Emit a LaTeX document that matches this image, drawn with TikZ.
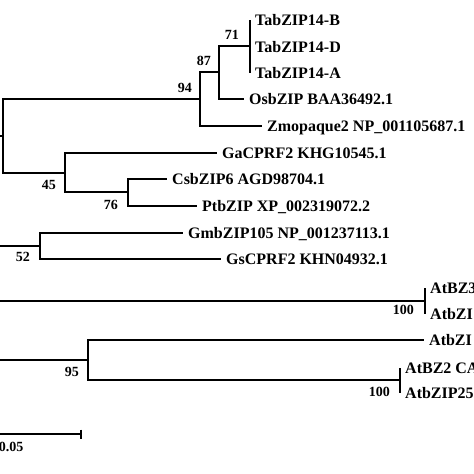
\documentclass[tikz,border=0pt]{standalone}
\usepackage{fontspec}
\setmainfont{Liberation Serif}
\usepackage{tikz}
\usetikzlibrary{arrows.meta}

\begin{document}
\begin{tikzpicture}[x=1pt, y=-1pt,
    branch/.style={line width=1.6pt},
    leaf/.style={anchor=west, inner sep=5pt, text height=11pt, text depth=0pt,
      font=\fontsize{16}{18}\selectfont\bfseries},
    boot/.style={anchor=east, inner sep=0pt, font=\fontsize{14}{16}\selectfont\bfseries}]
  \useasboundingbox (0,0) rectangle (474,474);
  \clip (0,0) rectangle (474,474);

  % leaves
  \node[leaf] (tabB) at (250,20) {TabZIP14-B};
  \node[leaf] (tabD) at (250,47) {TabZIP14-D};
  \node[leaf] (tabA) at (250,73) {TabZIP14-A};
  \node[leaf] (osb) at (244,99) {OsbZIP BAA36492.1};
  \node[leaf] (zmo) at (262,126) {Zmopaque2 NP\_001105687.1};
  \node[leaf] (gacprf) at (217,153) {GaCPRF2 KHG10545.1};
  \node[leaf] (csb) at (167,179) {CsbZIP6 AGD98704.1};
  \node[leaf] (ptb) at (197,206) {PtbZIP XP\_002319072.2};
  \node[leaf] (gmb) at (183,233) {GmbZIP105 NP\_001237113.1};
  \node[leaf] (gscprf) at (221,259) {GsCPRF2 KHN04932.1};
  \node[leaf] (atbz3) at (425,288) {AtBZ3};
  \node[leaf] (atbziA) at (425,314) {AtbZI};
  \node[leaf] (atbziB) at (424,340) {AtbZI};
  \node[leaf] (atbz2) at (400,368) {AtBZ2 CA};
  \node[leaf] (atbzip) at (400,393) {AtbZIP25};

  % inner nodes
  \coordinate (rA) at (3,136);
  \coordinate (n94) at (200,99);
  \coordinate (n87) at (219,72);
  \coordinate (n71) at (250,46);
  \coordinate (n45) at (65,173);
  \coordinate (n76) at (128,192);
  \coordinate (n52) at (40,246);
  \coordinate (nAt3) at (425,301);
  \coordinate (n95) at (88,360);
  \coordinate (nAt2) at (400,380);
  \coordinate (sA) at (-20,136);
  \coordinate (s52) at (-20,246);
  \coordinate (sAt3) at (-20,301);
  \coordinate (s95) at (-20,360);

  % branches
  \draw[branch] (sA)--(rA);
  \draw[branch] (rA) |- (n94);
  \draw[branch] (rA) |- (n45);
  \draw[branch] (n94) |- (n87);
  \draw[branch] (n94) |- (zmo.west);
  \draw[branch] (n87) |- (n71);
  \draw[branch] (n87) |- (osb.west);
  \draw[branch] (n71) |- (tabB.west);
  \draw[branch] (n71) |- (tabD.west);
  \draw[branch] (n71) |- (tabA.west);
  \draw[branch] (n45) |- (gacprf.west);
  \draw[branch] (n45) |- (n76);
  \draw[branch] (n76) |- (csb.west);
  \draw[branch] (n76) |- (ptb.west);
  \draw[branch] (s52)--(n52);
  \draw[branch] (n52) |- (gmb.west);
  \draw[branch] (n52) |- (gscprf.west);
  \draw[branch] (sAt3)--(nAt3);
  \draw[branch] (nAt3) |- (atbz3.west);
  \draw[branch] (nAt3) |- (atbziA.west);
  \draw[branch] (s95)--(n95);
  \draw[branch] (n95) |- (atbziB.west);
  \draw[branch] (n95) |- (nAt2);
  \draw[branch] (nAt2) |- (atbz2.west);
  \draw[branch] (nAt2) |- (atbzip.west);

  % bootstrap values
  \node[boot] (b94) at (192,88) {94};
  \node[boot] (b87) at (211,61) {87};
  \node[boot] (b71) at (239,35) {71};
  \node[boot] (b45) at (56,185) {45};
  \node[boot] (b76) at (118,205) {76};
  \node[boot] (b52) at (30,257) {52};
  \node[boot] (b100a) at (414,310) {100};
  \node[boot] (b95) at (79,372) {95};
  \node[boot] (b100b) at (390,392) {100};

  % scale bar
  \coordinate (sbL) at (-58,434);
  \coordinate (sbR) at (82,434);
  \draw[branch, {Bar[width=9pt]}-{Bar[width=9pt]}] (sbL)--(sbR);
  \node[font=\fontsize{14}{16}\selectfont\bfseries, inner sep=0pt] (sbtext) at (11,447) {0.05};
\end{tikzpicture}
\end{document}
